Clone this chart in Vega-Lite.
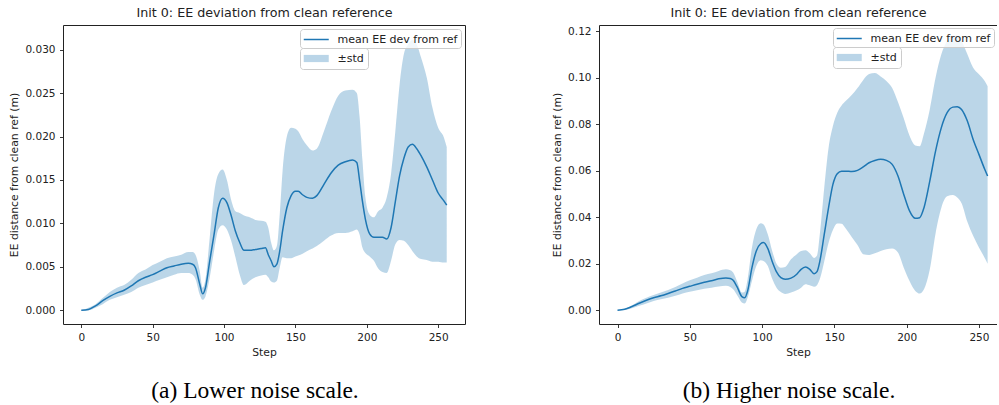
{
"$schema": "https://vega.github.io/schema/vega-lite/v6.json",
"padding": {"left": 8, "top": 6, "right": 0, "bottom": 0},
"config": {
  "font": "DejaVu Sans",
  "view": {"stroke": null},
  "axis": {"grid": false, "domainColor": "#222", "domainWidth": 1, "tickColor": "#222", "tickWidth": 0.9, "tickSize": 3.5, "labelColor": "#222", "labelFontSize": 10.5, "labelFont": "DejaVu Sans", "titleFont": "DejaVu Sans", "titleFontSize": 10.8, "titleFontWeight": "normal", "titleColor": "#222", "labelPadding": 4.5},
  "legend": {"title": null, "padding": 3.5, "fillColor": "rgba(255,255,255,0.8)", "strokeColor": "#cccccc", "cornerRadius": 3, "labelFontSize": 11, "labelFont": "DejaVu Sans", "labelColor": "#222", "symbolSize": 144, "symbolStrokeWidth": 1.5, "labelOffset": 20, "rowPadding": 4.5,
    "layout": {"top-right": {"direction": "vertical", "margin": 0, "anchor": "end"}}}
},
"datasets": {
"left": [
{"step":0,"mean":0,"lo":0,"hi":0},
{"step":5,"mean":0.0001,"lo":0.0,"hi":0.0003},
{"step":10,"mean":0.0005,"lo":0.0003,"hi":0.0007},
{"step":15,"mean":0.0011,"lo":0.0007,"hi":0.0014},
{"step":20,"mean":0.0016,"lo":0.0012,"hi":0.0021},
{"step":25,"mean":0.002,"lo":0.0015,"hi":0.0026},
{"step":30,"mean":0.0023,"lo":0.0018,"hi":0.0029},
{"step":35,"mean":0.0028,"lo":0.0021,"hi":0.0035},
{"step":40,"mean":0.0034,"lo":0.0026,"hi":0.0043},
{"step":45,"mean":0.0038,"lo":0.0029,"hi":0.0047},
{"step":50,"mean":0.0041,"lo":0.0032,"hi":0.0052},
{"step":55,"mean":0.0045,"lo":0.0035,"hi":0.0056},
{"step":60,"mean":0.0049,"lo":0.0038,"hi":0.006},
{"step":65,"mean":0.0051,"lo":0.0041,"hi":0.0062},
{"step":70,"mean":0.0053,"lo":0.0043,"hi":0.0064},
{"step":75,"mean":0.0054,"lo":0.0043,"hi":0.0067},
{"step":78,"mean":0.0053,"lo":0.0041,"hi":0.0067},
{"step":80,"mean":0.0049,"lo":0.0036,"hi":0.0064},
{"step":83,"mean":0.003,"lo":0.0018,"hi":0.0045},
{"step":85,"mean":0.0019,"lo":0.0012,"hi":0.0026},
{"step":87,"mean":0.0026,"lo":0.0016,"hi":0.0036},
{"step":90,"mean":0.0057,"lo":0.0038,"hi":0.0084},
{"step":93,"mean":0.0087,"lo":0.0068,"hi":0.0134},
{"step":96,"mean":0.0118,"lo":0.0093,"hi":0.0157},
{"step":99,"mean":0.0129,"lo":0.0098,"hi":0.0162},
{"step":102,"mean":0.0124,"lo":0.0093,"hi":0.015},
{"step":105,"mean":0.0109,"lo":0.008,"hi":0.0127},
{"step":108,"mean":0.0091,"lo":0.0061,"hi":0.0114},
{"step":111,"mean":0.0078,"lo":0.0041,"hi":0.0112},
{"step":114,"mean":0.0069,"lo":0.0029,"hi":0.0109},
{"step":118,"mean":0.0069,"lo":0.0034,"hi":0.0107},
{"step":122,"mean":0.007,"lo":0.0038,"hi":0.0104},
{"step":126,"mean":0.0071,"lo":0.004,"hi":0.0103},
{"step":129,"mean":0.0072,"lo":0.0041,"hi":0.0102},
{"step":131,"mean":0.0064,"lo":0.0038,"hi":0.0095},
{"step":133,"mean":0.0057,"lo":0.0033,"hi":0.0078},
{"step":135,"mean":0.005,"lo":0.0032,"hi":0.0069},
{"step":137,"mean":0.0053,"lo":0.0034,"hi":0.0074},
{"step":139,"mean":0.0068,"lo":0.0049,"hi":0.011},
{"step":141,"mean":0.0091,"lo":0.0061,"hi":0.016},
{"step":144,"mean":0.0118,"lo":0.006,"hi":0.02},
{"step":147,"mean":0.0132,"lo":0.006,"hi":0.021},
{"step":150,"mean":0.0137,"lo":0.0062,"hi":0.0209},
{"step":152,"mean":0.0137,"lo":0.0063,"hi":0.0206},
{"step":155,"mean":0.0133,"lo":0.0065,"hi":0.0197},
{"step":158,"mean":0.013,"lo":0.0068,"hi":0.019},
{"step":162,"mean":0.0129,"lo":0.0071,"hi":0.0184},
{"step":165,"mean":0.0132,"lo":0.0074,"hi":0.0186},
{"step":170,"mean":0.0145,"lo":0.008,"hi":0.0206},
{"step":175,"mean":0.0158,"lo":0.0086,"hi":0.0229},
{"step":180,"mean":0.0167,"lo":0.0089,"hi":0.0247},
{"step":185,"mean":0.0171,"lo":0.0089,"hi":0.0253},
{"step":190,"mean":0.0173,"lo":0.0091,"hi":0.0254},
{"step":193,"mean":0.017,"lo":0.0093,"hi":0.025},
{"step":195,"mean":0.0149,"lo":0.0087,"hi":0.0222},
{"step":197,"mean":0.0125,"lo":0.0072,"hi":0.0172},
{"step":199,"mean":0.0105,"lo":0.0066,"hi":0.013},
{"step":202,"mean":0.0088,"lo":0.0062,"hi":0.011},
{"step":205,"mean":0.0084,"lo":0.0057,"hi":0.0107},
{"step":208,"mean":0.0084,"lo":0.0048,"hi":0.0114},
{"step":211,"mean":0.0084,"lo":0.0044,"hi":0.0118},
{"step":214,"mean":0.0082,"lo":0.0043,"hi":0.013},
{"step":217,"mean":0.0095,"lo":0.0057,"hi":0.0157},
{"step":220,"mean":0.0125,"lo":0.0076,"hi":0.0206},
{"step":223,"mean":0.0155,"lo":0.0081,"hi":0.026},
{"step":226,"mean":0.0175,"lo":0.008,"hi":0.0295},
{"step":229,"mean":0.0188,"lo":0.0075,"hi":0.0306},
{"step":232,"mean":0.0191,"lo":0.0068,"hi":0.0311},
{"step":235,"mean":0.0186,"lo":0.0062,"hi":0.0306},
{"step":238,"mean":0.0178,"lo":0.0059,"hi":0.0291},
{"step":242,"mean":0.0165,"lo":0.0058,"hi":0.0268},
{"step":246,"mean":0.015,"lo":0.0056,"hi":0.0233},
{"step":250,"mean":0.0135,"lo":0.0056,"hi":0.021},
{"step":254,"mean":0.0126,"lo":0.0055,"hi":0.0199},
{"step":256,"mean":0.0121,"lo":0.0055,"hi":0.0188}
],
"right": [
{"step":0,"mean":0,"lo":0,"hi":0},
{"step":5,"mean":0.0004,"lo":0.0002,"hi":0.0007},
{"step":10,"mean":0.0016,"lo":0.0009,"hi":0.0021},
{"step":15,"mean":0.003,"lo":0.0019,"hi":0.004},
{"step":20,"mean":0.0043,"lo":0.0029,"hi":0.0054},
{"step":25,"mean":0.0054,"lo":0.004,"hi":0.0066},
{"step":30,"mean":0.0062,"lo":0.0047,"hi":0.0076},
{"step":35,"mean":0.0072,"lo":0.0054,"hi":0.0087},
{"step":40,"mean":0.0083,"lo":0.0062,"hi":0.01},
{"step":45,"mean":0.0094,"lo":0.0072,"hi":0.0115},
{"step":50,"mean":0.0103,"lo":0.008,"hi":0.0129},
{"step":55,"mean":0.0112,"lo":0.0086,"hi":0.014},
{"step":60,"mean":0.012,"lo":0.0093,"hi":0.0152},
{"step":65,"mean":0.0127,"lo":0.0097,"hi":0.0159},
{"step":70,"mean":0.0135,"lo":0.0102,"hi":0.0169},
{"step":75,"mean":0.0139,"lo":0.0105,"hi":0.0176},
{"step":78,"mean":0.0137,"lo":0.01,"hi":0.0172},
{"step":80,"mean":0.0129,"lo":0.009,"hi":0.0162},
{"step":83,"mean":0.0097,"lo":0.0062,"hi":0.0119},
{"step":86,"mean":0.0059,"lo":0.0033,"hi":0.0076},
{"step":88,"mean":0.0054,"lo":0.0029,"hi":0.008},
{"step":90,"mean":0.0083,"lo":0.0054,"hi":0.0133},
{"step":93,"mean":0.0183,"lo":0.0126,"hi":0.0269},
{"step":96,"mean":0.0255,"lo":0.019,"hi":0.0348},
{"step":99,"mean":0.0286,"lo":0.0215,"hi":0.0374},
{"step":101,"mean":0.0291,"lo":0.0212,"hi":0.0369},
{"step":104,"mean":0.0265,"lo":0.019,"hi":0.0326},
{"step":107,"mean":0.021,"lo":0.0135,"hi":0.0255},
{"step":110,"mean":0.0165,"lo":0.0097,"hi":0.02},
{"step":113,"mean":0.014,"lo":0.0078,"hi":0.0183},
{"step":116,"mean":0.0133,"lo":0.007,"hi":0.0186},
{"step":120,"mean":0.0138,"lo":0.0076,"hi":0.0219},
{"step":124,"mean":0.0155,"lo":0.0086,"hi":0.0241},
{"step":127,"mean":0.0176,"lo":0.0097,"hi":0.0255},
{"step":130,"mean":0.0186,"lo":0.0112,"hi":0.0258},
{"step":133,"mean":0.0176,"lo":0.0107,"hi":0.0245},
{"step":136,"mean":0.0157,"lo":0.0101,"hi":0.0225},
{"step":138,"mean":0.0166,"lo":0.0108,"hi":0.0235},
{"step":140,"mean":0.0212,"lo":0.0135,"hi":0.033},
{"step":143,"mean":0.0326,"lo":0.021,"hi":0.0527},
{"step":146,"mean":0.0441,"lo":0.029,"hi":0.0699},
{"step":149,"mean":0.0541,"lo":0.0345,"hi":0.0792},
{"step":152,"mean":0.0587,"lo":0.0373,"hi":0.0849},
{"step":155,"mean":0.0598,"lo":0.0372,"hi":0.088},
{"step":158,"mean":0.0598,"lo":0.035,"hi":0.09},
{"step":162,"mean":0.0596,"lo":0.0315,"hi":0.0925},
{"step":166,"mean":0.0601,"lo":0.028,"hi":0.0955},
{"step":170,"mean":0.0616,"lo":0.0241,"hi":0.099},
{"step":174,"mean":0.0634,"lo":0.0238,"hi":0.1015},
{"step":178,"mean":0.0644,"lo":0.0245,"hi":0.102},
{"step":182,"mean":0.0649,"lo":0.0255,"hi":0.1005},
{"step":186,"mean":0.0644,"lo":0.0262,"hi":0.0985},
{"step":190,"mean":0.0627,"lo":0.0265,"hi":0.0955},
{"step":194,"mean":0.0577,"lo":0.0248,"hi":0.0895},
{"step":198,"mean":0.0498,"lo":0.0183,"hi":0.0825},
{"step":202,"mean":0.0427,"lo":0.0126,"hi":0.075},
{"step":206,"mean":0.0395,"lo":0.0083,"hi":0.0708},
{"step":209,"mean":0.0398,"lo":0.0072,"hi":0.0705},
{"step":212,"mean":0.0441,"lo":0.009,"hi":0.076},
{"step":216,"mean":0.0555,"lo":0.0175,"hi":0.0863},
{"step":220,"mean":0.0684,"lo":0.033,"hi":0.0999},
{"step":224,"mean":0.0785,"lo":0.0441,"hi":0.11},
{"step":228,"mean":0.0849,"lo":0.049,"hi":0.1157},
{"step":232,"mean":0.0873,"lo":0.0495,"hi":0.118},
{"step":235,"mean":0.0875,"lo":0.0485,"hi":0.118},
{"step":238,"mean":0.0863,"lo":0.046,"hi":0.1157},
{"step":242,"mean":0.0813,"lo":0.038,"hi":0.11},
{"step":246,"mean":0.0734,"lo":0.032,"hi":0.1042},
{"step":250,"mean":0.067,"lo":0.027,"hi":0.1014},
{"step":254,"mean":0.0606,"lo":0.0225,"hi":0.0985},
{"step":256,"mean":0.0577,"lo":0.02,"hi":0.0963}
]
},
"spacing": 86,
"resolve": {"scale": {"fill": "independent", "stroke": "independent"}, "legend": {"fill": "independent", "stroke": "independent"}},
"hconcat": [
{
  "width": 402, "height": 299,
  "data": {"name": "left"},
  "title": {"text": "(a) Lower noise scale.", "orient": "bottom", "frame": "group", "anchor": "middle", "dx": -9, "offset": 22, "font": "Liberation Serif", "fontSize": 23.5, "fontWeight": "normal", "color": "#000"},
  "layer": [
    {"mark": {"type": "line", "interpolate": "monotone", "strokeWidth": 1.5},
     "encoding": {
       "x": {"field": "step", "type": "quantitative", "scale": {"domain": [-12.8, 268.8], "nice": false, "zero": false}, "axis": {"orient": "top", "labels": false, "ticks": false, "title": "Init 0: EE deviation from clean reference", "titleFontSize": 12.7, "titlePadding": 6}},
       "y": {"field": "mean", "type": "quantitative", "scale": {"domain": [-0.00158, 0.03284], "nice": false, "zero": false}, "axis": {"orient": "right", "labels": false, "ticks": false, "title": null}},
       "stroke": {"datum": "mean EE dev from ref", "type": "nominal", "scale": {"range": ["#1f77b4"]},
         "legend": {"orient": "top-right", "offset": 4, "symbolType": "M-1.125,0H3.04"}}
     }},
    {"mark": {"type": "area", "interpolate": "monotone", "opacity": 0.3},
     "encoding": {
       "x": {"field": "step", "type": "quantitative", "axis": {"values": [0, 50, 100, 150, 200, 250], "title": "Step", "titlePadding": 4}},
       "y": {"field": "lo", "type": "quantitative", "axis": {"values": [0, 0.005, 0.01, 0.015, 0.02, 0.025, 0.03], "format": ".3f", "title": "EE distance from clean ref (m)", "titlePadding": 5}},
       "y2": {"field": "hi"},
       "fill": {"datum": "±std", "type": "nominal", "scale": {"range": ["#1f77b4"]},
         "legend": {"orient": "top-right", "offset": 4, "symbolType": "M-1.125,-0.6H3.04V0.6H-1.125Z", "symbolOpacity": 0.3, "symbolStrokeColor": "transparent", "labelExpr": "pad(datum.label, 31, ' ')"}}
     }}
  ],
  "resolve": {"axis": {"x": "independent", "y": "independent"}}
},
{
  "width": 398, "height": 299,
  "data": {"name": "right"},
  "title": {"text": "(b) Higher noise scale.", "orient": "bottom", "frame": "group", "anchor": "middle", "dx": -9, "offset": 22, "font": "Liberation Serif", "fontSize": 23.5, "fontWeight": "normal", "color": "#000"},
  "layer": [
    {"mark": {"type": "line", "interpolate": "monotone", "strokeWidth": 1.5},
     "encoding": {
       "x": {"field": "step", "type": "quantitative", "scale": {"domain": [-12.8, 262.5], "nice": false, "zero": false}, "axis": {"orient": "top", "labels": false, "ticks": false, "title": "Init 0: EE deviation from clean reference", "titleFontSize": 12.7, "titlePadding": 6}},
       "y": {"field": "mean", "type": "quantitative", "scale": {"domain": [-0.0059, 0.1226], "nice": false, "zero": false}, "axis": null},
       "stroke": {"datum": "mean EE dev from ref", "type": "nominal", "scale": {"range": ["#1f77b4"]},
         "legend": {"orient": "top-right", "offset": 3, "symbolType": "M-1.125,0H3.04"}}
     }},
    {"mark": {"type": "area", "interpolate": "monotone", "opacity": 0.3},
     "encoding": {
       "x": {"field": "step", "type": "quantitative", "axis": {"values": [0, 50, 100, 150, 200, 250], "title": "Step", "titlePadding": 4}},
       "y": {"field": "lo", "type": "quantitative", "axis": {"values": [0, 0.02, 0.04, 0.06, 0.08, 0.1, 0.12], "format": ".2f", "title": "EE distance from clean ref (m)", "titlePadding": 5}},
       "y2": {"field": "hi"},
       "fill": {"datum": "±std", "type": "nominal", "scale": {"range": ["#1f77b4"]},
         "legend": {"orient": "top-right", "offset": 3, "symbolType": "M-1.125,-0.6H3.04V0.6H-1.125Z", "symbolOpacity": 0.3, "symbolStrokeColor": "transparent", "labelExpr": "pad(datum.label, 31, ' ')"}}
     }}
  ],
  "resolve": {"axis": {"x": "independent", "y": "independent"}}
}
]
}
